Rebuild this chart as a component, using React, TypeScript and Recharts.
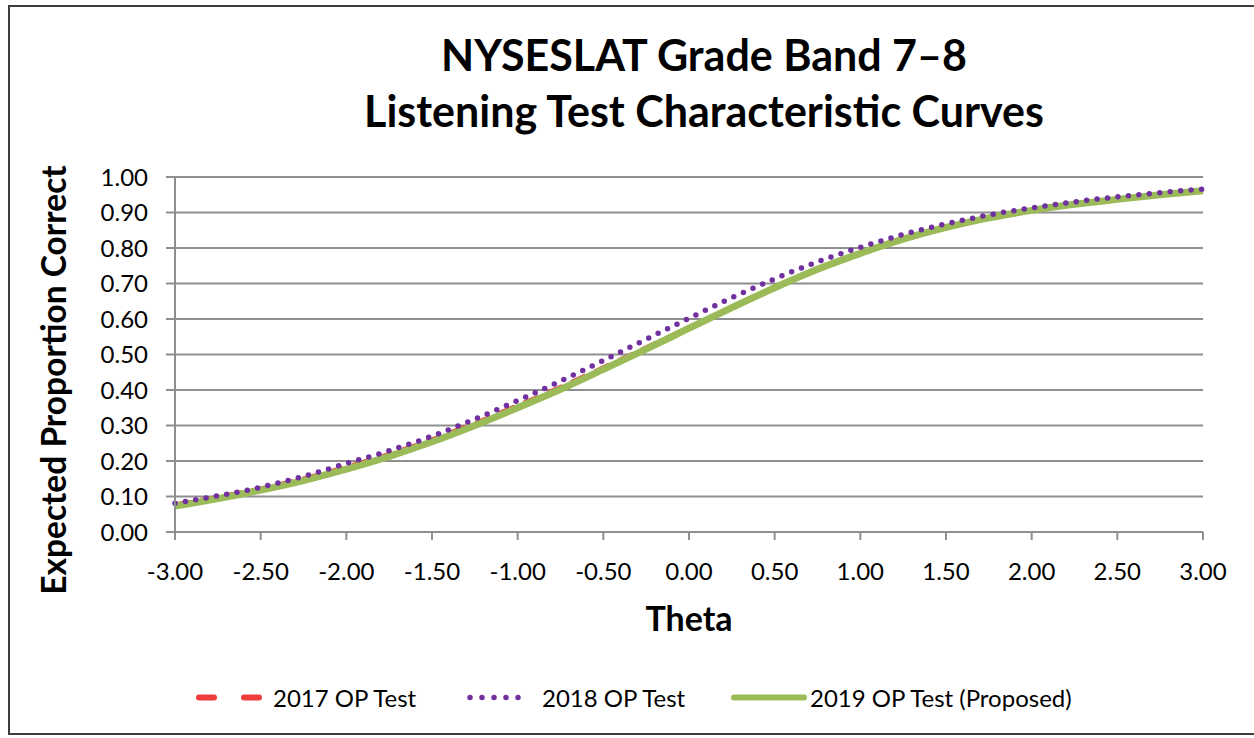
import { LineChart, Line, XAxis, YAxis, CartesianGrid } from "recharts"

// theta points
const theta = [
  -3, -2.75, -2.5, -2.25, -2, -1.75, -1.5, -1.25, -1, -0.75, -0.5, -0.25, 0,
  0.25, 0.5, 0.75, 1, 1.25, 1.5, 1.75, 2, 2.25, 2.5, 2.75, 3,
]

const op2017 = [
  0.078, 0.099, 0.123, 0.151, 0.184, 0.22, 0.261, 0.307, 0.357, 0.409, 0.464, 0.52, 0.577,
  0.633, 0.687, 0.737, 0.782, 0.822, 0.855, 0.882, 0.903, 0.921, 0.936, 0.949, 0.96,
]

const op2018 = [
  0.081, 0.102, 0.126, 0.157, 0.193, 0.229, 0.27, 0.318, 0.37, 0.425, 0.483, 0.543, 0.602,
  0.66, 0.713, 0.761, 0.802, 0.838, 0.868, 0.893, 0.913, 0.93, 0.944, 0.956, 0.966,
]

const op2019 = [
  0.073, 0.094, 0.118, 0.145, 0.177, 0.213, 0.254, 0.3, 0.35, 0.402, 0.458, 0.515, 0.574,
  0.632, 0.688, 0.74, 0.785, 0.825, 0.858, 0.885, 0.906, 0.923, 0.937, 0.95, 0.961,
]

const xTicks = [-3, -2.5, -2, -1.5, -1, -0.5, 0, 0.5, 1, 1.5, 2, 2.5, 3]
const yTicks = [0, 0.1, 0.2, 0.3, 0.4, 0.5, 0.6, 0.7, 0.8, 0.9, 1]

const data = theta.map((t, i) => ({
  theta: t,
  op2017: op2017[i],
  op2018: op2018[i],
  op2019: op2019[i],
}))

const FONT = "Lato, 'Open Sans', sans-serif"
const GRID = "#8f8f8f"
const RED = "#ee3b3b"
const PURPLE = "#7030a0"
const GREEN = "#9bbb59"

const tickStyle = { fontSize: 24, fill: "#000", fontFamily: FONT }

function LegendKey({ kind }: { kind: string }) {
  if (kind === "red") {
    return (
      <svg width={68} height={12}>
        <line x1={4} y1={6} x2={64} y2={6} stroke={RED} strokeWidth={6} strokeLinecap="round" strokeDasharray="15 30" />
      </svg>
    )
  }
  if (kind === "purple") {
    return (
      <svg width={68} height={12}>
        <line x1={4} y1={6} x2={64} y2={6} stroke={PURPLE} strokeWidth={5.5} strokeLinecap="round" strokeDasharray="0 12" />
      </svg>
    )
  }
  return (
    <svg width={76} height={12}>
      <line x1={3} y1={6} x2={73} y2={6} stroke={GREEN} strokeWidth={6} strokeLinecap="round" />
    </svg>
  )
}

const legendItems = [
  { label: "2017 OP Test", kind: "red", left: 195, gap: 10 },
  { label: "2018 OP Test", kind: "purple", left: 466, gap: 8 },
  { label: "2019 OP Test (Proposed)", kind: "green", left: 731, gap: 3 },
]

export default function App() {
  return (
    <div style={{ position: "absolute", left: 0, top: 0, width: 1254, height: 738, background: "#fff", fontFamily: FONT }}>
      <div
        style={{
          position: "absolute",
          left: 8,
          top: 5,
          width: 1246,
          height: 730,
          borderLeft: "2px solid #3c3c3c",
          borderTop: "2px solid #3c3c3c",
          borderBottom: "2px solid #3c3c3c",
          boxSizing: "border-box",
        }}
      />
      <div
        style={{
          position: "absolute",
          left: 704,
          top: 27,
          transform: "translateX(-50%)",
          textAlign: "center",
          fontWeight: 700,
          fontSize: 43,
          lineHeight: "56px",
          whiteSpace: "nowrap",
          color: "#000",
        }}
      >
        <div>NYSESLAT Grade Band 7–8</div>
        <div>Listening Test Characteristic Curves</div>
      </div>
      <div
        style={{
          position: "absolute",
          left: 53,
          top: 380,
          transform: "translate(-50%, -50%) rotate(-90deg)",
          fontWeight: 700,
          fontSize: 33.5,
          whiteSpace: "nowrap",
          color: "#000",
        }}
      >
        Expected Proportion Correct
      </div>
      <div
        style={{
          position: "absolute",
          left: 689,
          top: 617,
          transform: "translate(-50%, -50%)",
          fontWeight: 700,
          fontSize: 34,
          color: "#000",
        }}
      >
        Theta
      </div>
      <LineChart
        width={1254}
        height={738}
        data={data}
        margin={{ top: 177, right: 51, bottom: 176, left: 115 }}
        style={{ position: "absolute", left: 0, top: 0 }}
      >
        <CartesianGrid vertical={false} stroke={GRID} strokeWidth={2} />
        <XAxis
          dataKey="theta"
          type="number"
          domain={[-3, 3]}
          ticks={xTicks}
          interval={0}
          tickFormatter={(v: number) => v.toFixed(2)}
          tick={tickStyle}
          tickSize={8}
          tickMargin={23}
          height={30}
          axisLine={{ stroke: GRID, strokeWidth: 2 }}
          tickLine={{ stroke: GRID, strokeWidth: 2 }}
        />
        <YAxis
          type="number"
          domain={[0, 1]}
          ticks={yTicks}
          interval={0}
          tickFormatter={(v: number) => v.toFixed(2)}
          tick={tickStyle}
          tickSize={9}
          tickMargin={18}
          width={60}
          axisLine={{ stroke: GRID, strokeWidth: 2 }}
          tickLine={{ stroke: GRID, strokeWidth: 2 }}
        />
        <Line
          dataKey="op2017"
          type="monotone"
          stroke={RED}
          strokeWidth={4}
          strokeDasharray="16 10"
          dot={false}
          isAnimationActive={false}
        />
        <Line
          dataKey="op2019"
          type="monotone"
          stroke={GREEN}
          strokeWidth={7}
          dot={false}
          isAnimationActive={false}
        />
        <Line
          dataKey="op2018"
          type="monotone"
          stroke={PURPLE}
          strokeWidth={5.5}
          strokeLinecap="round"
          strokeDasharray="0 10.5"
          dot={false}
          isAnimationActive={false}
        />
      </LineChart>
      {legendItems.map((item) => (
        <div
          key={item.label}
          style={{
            position: "absolute",
            left: item.left,
            top: 697,
            transform: "translateY(-50%)",
            display: "flex",
            alignItems: "center",
            gap: item.gap,
            fontSize: 24,
            whiteSpace: "nowrap",
            color: "#000",
          }}
        >
          <LegendKey kind={item.kind} />
          <span>{item.label}</span>
        </div>
      ))}
    </div>
  )
}
